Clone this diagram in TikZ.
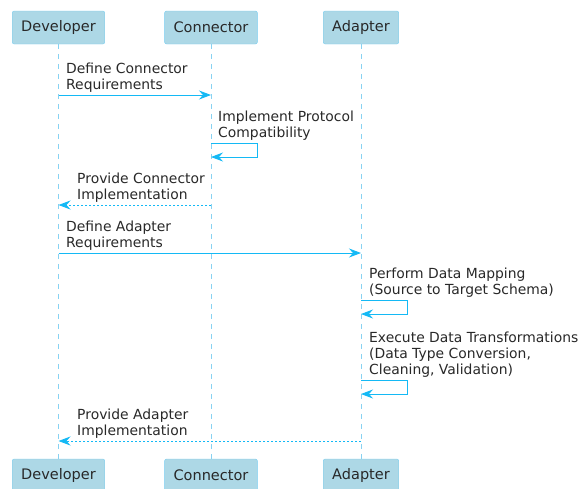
\documentclass[tikz,border=0pt]{standalone}
\usepackage{fontspec}
\setmainfont{DejaVu Sans}
\usetikzlibrary{arrows.meta, positioning}
\definecolor{boxfill}{RGB}{173,216,230}
\definecolor{boxline}{RGB}{120,205,240}
\definecolor{msgblue}{RGB}{20,185,245}
\definecolor{lifeblue}{RGB}{135,210,242}
\definecolor{inkgray}{RGB}{40,40,40}

\begin{document}
\begin{tikzpicture}[x=1pt, y=-1pt,
    actor/.style={draw=boxline, fill=boxfill, rounded corners=2pt, minimum height=33pt,
        inner xsep=9pt, font=\fontsize{14.5}{16}\selectfont, text=inkgray},
    lifeline/.style={lifeblue, line width=0.9pt, dash pattern=on 5pt off 5pt},
    msg/.style={msgblue, line width=0.9pt, -{Stealth[length=12pt, width=9pt, inset=4pt]}},
    reply/.style={msg, dash pattern=on 2pt off 2pt},
    msgtext/.style={anchor=south west, inner sep=0pt, align=left, text=inkgray,
        font=\fontsize{13.9}{16}\selectfont, execute at end node=\strut}]
    \useasboundingbox (0,0) rectangle (579,488);

    % Participants
    \node[actor] (devtop) at (58.5,27.5) {Developer};
    \node[actor] (contop) at (211,27.5) {Connector};
    \node[actor] (adatop) at (361,27.5) {Adapter};
    \node[actor] (devbot) at (58.5,475.5) {Developer};
    \node[actor] (conbot) at (211,475.5) {Connector};
    \node[actor] (adabot) at (361,475.5) {Adapter};

    % Lifelines
    \draw[lifeline] (devtop.south) -- (devbot.north);
    \draw[lifeline] (contop.south) -- (conbot.north);
    \draw[lifeline] (adatop.south) -- (adabot.north);

    % Connector part
    \draw[msg] (devtop |- 0,95) -- (contop |- 0,95);
    \node[msgtext] (m1) at (66,94) {Define Connector\\Requirements};
    \draw[msg] (contop |- 0,143) -- ++(46,0) -- ++(0,14) -- (contop |- 0,157);
    \node[msgtext] (m2) at (218,142) {Implement Protocol\\Compatibility};
    \draw[reply] (contop |- 0,205) -- (devtop |- 0,205);
    \node[msgtext] (m3) at (77,204) {Provide Connector\\Implementation};

    % Adapter part
    \draw[msg] (devtop |- 0,253) -- (adatop |- 0,253);
    \node[msgtext] (m4) at (66,252) {Define Adapter\\Requirements};
    \draw[msg] (adatop |- 0,300) -- ++(46,0) -- ++(0,14) -- (adatop |- 0,314);
    \node[msgtext] (m5) at (369,299) {Perform Data Mapping\\(Source to Target Schema)};
    \draw[msg] (adatop |- 0,380) -- ++(46,0) -- ++(0,14) -- (adatop |- 0,394);
    \node[msgtext] (m6) at (369,379) {Execute Data Transformations\\(Data Type Conversion,\\Cleaning, Validation)};
    \draw[reply] (adatop |- 0,441) -- (devtop |- 0,441);
    \node[msgtext] (m7) at (77,440) {Provide Adapter\\Implementation};
\end{tikzpicture}
\end{document}
